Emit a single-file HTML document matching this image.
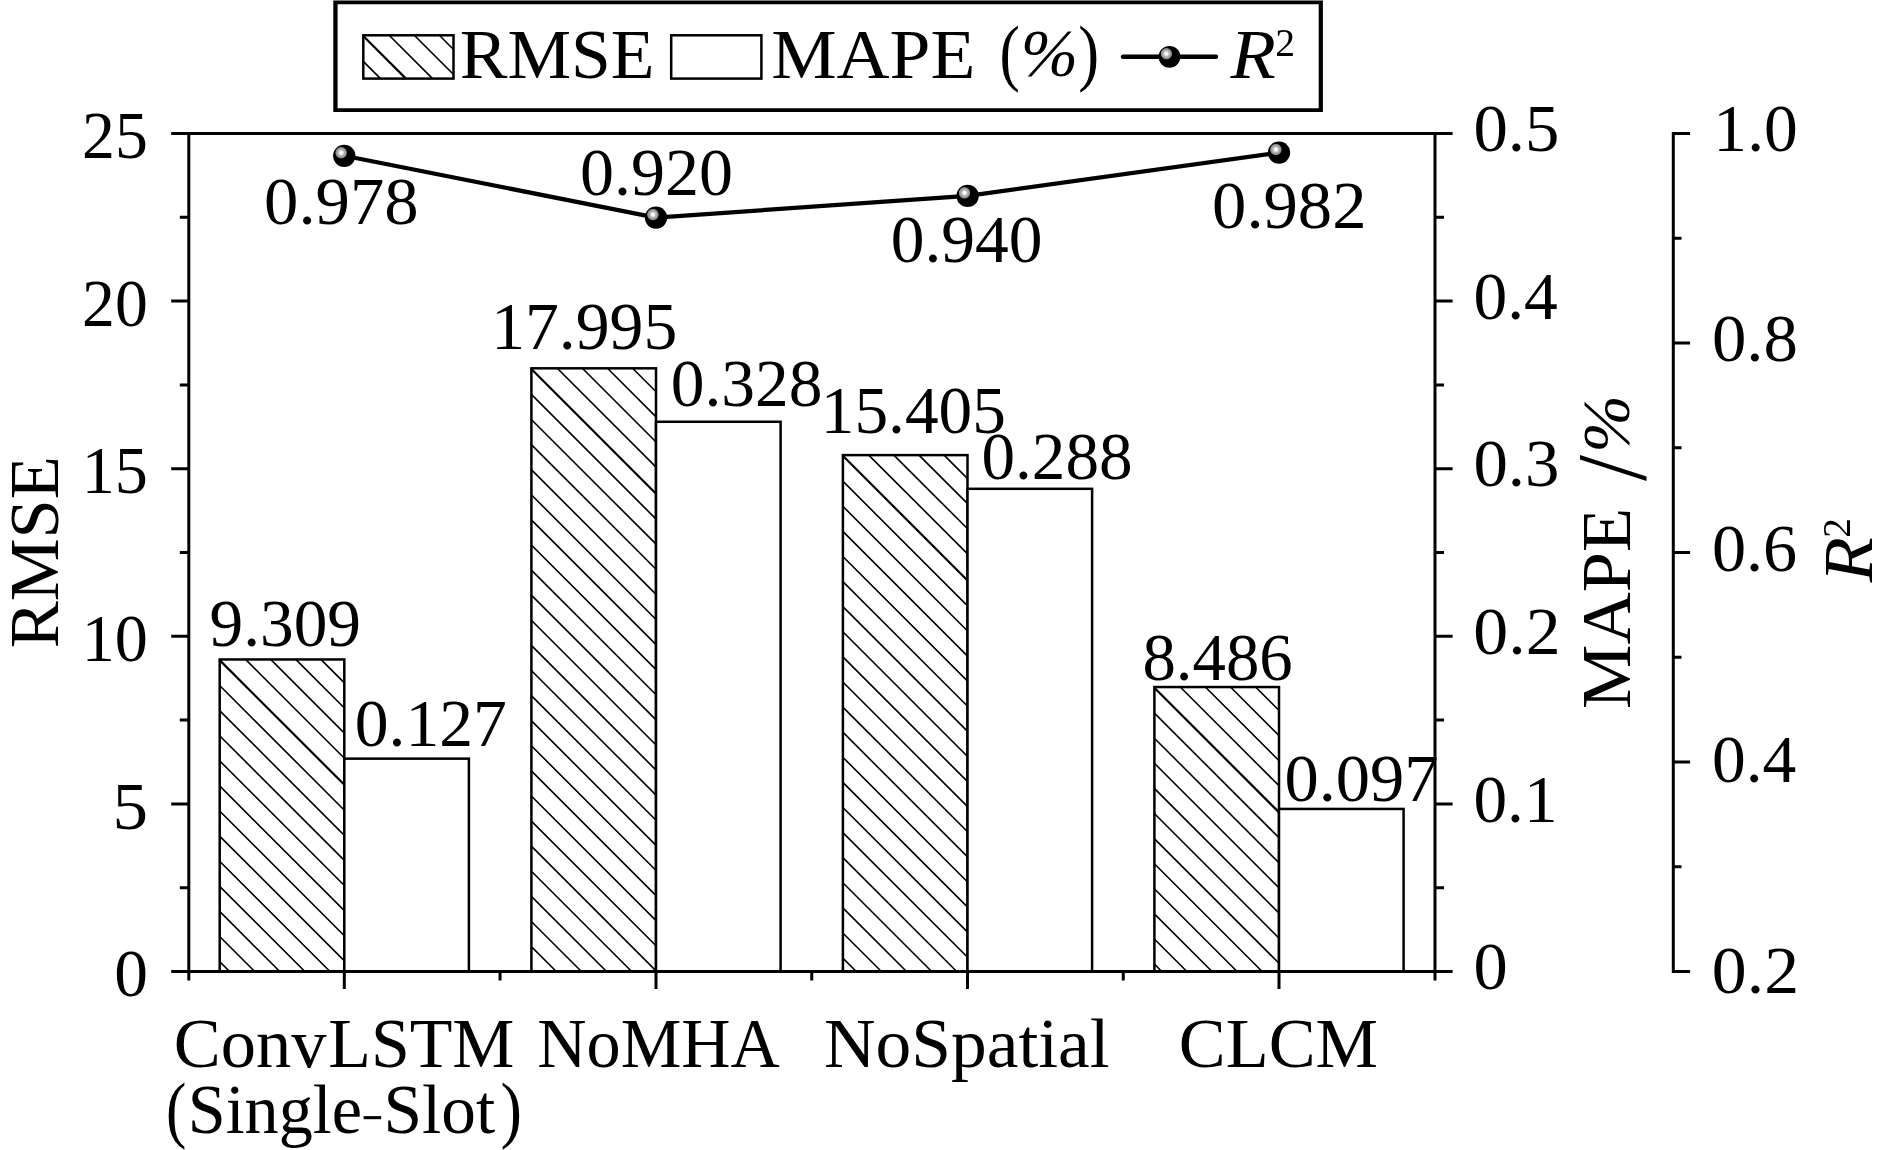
<!DOCTYPE html>
<html><head><meta charset="utf-8"><title>chart</title>
<style>html,body{margin:0;padding:0;background:#fff}svg{display:block}text{font-family:"Liberation Serif",serif;font-size:100px;fill:#000}</style></head>
<body>
<svg width="1890" height="1150" viewBox="0 0 1890 1150">
<rect x="0" y="0" width="1890" height="1150" fill="#fff"/>
<defs>
<radialGradient id="hl" cx="0.5" cy="0.5" r="0.5"><stop offset="0" stop-color="#fff"/><stop offset="0.2" stop-color="#fff"/><stop offset="0.42" stop-color="#c4c4c4"/><stop offset="0.66" stop-color="#a2a2a2"/><stop offset="0.86" stop-color="#868686"/><stop offset="0.95" stop-color="#444"/><stop offset="1" stop-color="#000"/></radialGradient>
</defs>
<rect x="219.70" y="659.46" width="124.60" height="312.04" fill="#fff"/><path d="M245.30,659.16L344.60,758.46M270.40,659.16L344.60,733.36M295.50,659.16L344.60,708.26M320.60,659.16L344.60,683.16M219.40,685.26L344.60,810.46M219.40,710.36L344.60,835.56M219.40,735.46L344.60,860.66M219.40,760.56L344.60,885.76M219.40,785.66L344.60,910.86M219.40,810.76L344.60,935.96M219.40,835.86L344.60,961.06M219.40,860.96L330.24,971.80M219.40,886.06L305.14,971.80M219.40,911.16L280.04,971.80M219.40,936.26L254.94,971.80M219.40,961.36L229.84,971.80" stroke="#000" stroke-width="1.6" fill="none"/><path d="M219.40,659.86L344.60,785.06" stroke="#000" stroke-width="2.2" fill="none"/><rect x="219.70" y="659.46" width="124.60" height="312.04" fill="none" stroke="#000" stroke-width="2.5"/>
<rect x="344.30" y="758.65" width="124.60" height="212.85" fill="#fff" stroke="#000" stroke-width="2.5"/>
<rect x="531.40" y="368.31" width="124.60" height="603.19" fill="#fff"/><path d="M557.00,368.01L656.30,467.31M582.10,368.01L656.30,442.21M607.20,368.01L656.30,417.11M632.30,368.01L656.30,392.01M531.10,394.11L656.30,519.31M531.10,419.21L656.30,544.41M531.10,444.31L656.30,569.51M531.10,469.41L656.30,594.61M531.10,494.51L656.30,619.71M531.10,519.61L656.30,644.81M531.10,544.71L656.30,669.91M531.10,569.81L656.30,695.01M531.10,594.91L656.30,720.11M531.10,620.01L656.30,745.21M531.10,645.11L656.30,770.31M531.10,670.21L656.30,795.41M531.10,695.31L656.30,820.51M531.10,720.41L656.30,845.61M531.10,745.51L656.30,870.71M531.10,770.61L656.30,895.81M531.10,795.71L656.30,920.91M531.10,820.81L656.30,946.01M531.10,845.91L656.30,971.11M531.10,871.01L631.89,971.80M531.10,896.11L606.79,971.80M531.10,921.21L581.69,971.80M531.10,946.31L556.59,971.80" stroke="#000" stroke-width="1.6" fill="none"/><path d="M531.10,368.71L656.30,493.91" stroke="#000" stroke-width="2.2" fill="none"/><rect x="531.40" y="368.31" width="124.60" height="603.19" fill="none" stroke="#000" stroke-width="2.5"/>
<rect x="656.00" y="421.77" width="124.60" height="549.73" fill="#fff" stroke="#000" stroke-width="2.5"/>
<rect x="842.90" y="455.12" width="124.60" height="516.38" fill="#fff"/><path d="M868.50,454.82L967.80,554.12M893.60,454.82L967.80,529.02M918.70,454.82L967.80,503.92M943.80,454.82L967.80,478.82M842.60,480.92L967.80,606.12M842.60,506.02L967.80,631.22M842.60,531.12L967.80,656.32M842.60,556.22L967.80,681.42M842.60,581.32L967.80,706.52M842.60,606.42L967.80,731.62M842.60,631.52L967.80,756.72M842.60,656.62L967.80,781.82M842.60,681.72L967.80,806.92M842.60,706.82L967.80,832.02M842.60,731.92L967.80,857.12M842.60,757.02L967.80,882.22M842.60,782.12L967.80,907.32M842.60,807.22L967.80,932.42M842.60,832.32L967.80,957.52M842.60,857.42L956.98,971.80M842.60,882.52L931.88,971.80M842.60,907.62L906.78,971.80M842.60,932.72L881.68,971.80M842.60,957.82L856.58,971.80" stroke="#000" stroke-width="1.6" fill="none"/><path d="M842.60,455.52L967.80,580.72" stroke="#000" stroke-width="2.2" fill="none"/><rect x="842.90" y="455.12" width="124.60" height="516.38" fill="none" stroke="#000" stroke-width="2.5"/>
<rect x="967.50" y="488.81" width="124.60" height="482.69" fill="#fff" stroke="#000" stroke-width="2.5"/>
<rect x="1154.40" y="687.05" width="124.60" height="284.45" fill="#fff"/><path d="M1180.00,686.75L1279.30,786.05M1205.10,686.75L1279.30,760.95M1230.20,686.75L1279.30,735.85M1255.30,686.75L1279.30,710.75M1154.10,712.85L1279.30,838.05M1154.10,737.95L1279.30,863.15M1154.10,763.05L1279.30,888.25M1154.10,788.15L1279.30,913.35M1154.10,813.25L1279.30,938.45M1154.10,838.35L1279.30,963.55M1154.10,863.45L1262.45,971.80M1154.10,888.55L1237.35,971.80M1154.10,913.65L1212.25,971.80M1154.10,938.75L1187.15,971.80M1154.10,963.85L1162.05,971.80" stroke="#000" stroke-width="1.6" fill="none"/><path d="M1154.10,687.45L1279.30,812.65" stroke="#000" stroke-width="2.2" fill="none"/><rect x="1154.40" y="687.05" width="124.60" height="284.45" fill="none" stroke="#000" stroke-width="2.5"/>
<rect x="1279.00" y="808.93" width="124.60" height="162.57" fill="#fff" stroke="#000" stroke-width="2.5"/>
<g stroke="#000" stroke-width="3" fill="none" stroke-linecap="butt">
<path d="M171.20,133.5 H1452.60"/><path d="M171.20,971.5 H1452.60"/><path d="M188.8,132.0 V980.50"/><path d="M1435.0,132.0 V980.50"/><path d="M1673.3,132.0 V973.0"/>
<path d="M179.80,217.30H188.8 M1435.0,217.30H1444.00 M171.20,301.10H188.8 M1435.0,301.10H1452.60 M179.80,384.90H188.8 M1435.0,384.90H1444.00 M171.20,468.70H188.8 M1435.0,468.70H1452.60 M179.80,552.50H188.8 M1435.0,552.50H1444.00 M171.20,636.30H188.8 M1435.0,636.30H1452.60 M179.80,720.10H188.8 M1435.0,720.10H1444.00 M171.20,803.90H188.8 M1435.0,803.90H1452.60 M179.80,887.70H188.8 M1435.0,887.70H1444.00 M1673.3,133.50H1690.10 M1673.3,238.25H1681.50 M1673.3,343.00H1690.10 M1673.3,447.75H1681.50 M1673.3,552.50H1690.10 M1673.3,657.25H1681.50 M1673.3,762.00H1690.10 M1673.3,866.75H1681.50 M1673.3,971.50H1690.10 M344.30,971.5V989.00 M656.00,971.5V989.00 M967.50,971.5V989.00 M1279.00,971.5V989.00 M500.05,971.5V980.50 M811.75,971.5V980.50 M1123.25,971.5V980.50 "/>
</g>
<polyline points="344.25,155.80 656.00,217.60 967.60,195.90 1279.00,152.60" fill="none" stroke="#000" stroke-width="4.2" stroke-linejoin="round"/>
<circle cx="344.25" cy="155.80" r="11.15" fill="#000"/><circle cx="341.15" cy="152.75" r="6.1" fill="url(#hl)"/><circle cx="656.00" cy="217.60" r="11.15" fill="#000"/><circle cx="652.90" cy="214.55" r="6.1" fill="url(#hl)"/><circle cx="967.60" cy="195.90" r="11.15" fill="#000"/><circle cx="964.50" cy="192.85" r="6.1" fill="url(#hl)"/><circle cx="1279.00" cy="152.60" r="11.15" fill="#000"/><circle cx="1275.90" cy="149.55" r="6.1" fill="url(#hl)"/>
<path d="M333.3,0.5H1322.9V112.0H333.3Z M337.6,4.3V108.2H1318.7V4.3Z" fill="#000" fill-rule="evenodd"/>
<path d="M388.90,35.00L432.80,78.90M414.00,35.00L453.80,74.80M439.10,35.00L453.80,49.70M363.00,61.10L380.80,78.90" stroke="#000" stroke-width="1.6" fill="none"/><path d="M363.00,35.70L406.20,78.90" stroke="#000" stroke-width="2.2" fill="none"/><rect x="363.3" y="35.3" width="90.2" height="43.3" fill="none" stroke="#000" stroke-width="2.5"/>
<rect x="671.2" y="35.3" width="90.2" height="43.3" fill="#fff" stroke="#000" stroke-width="2.5"/>
<path d="M1123,56.8 H1216" stroke="#000" stroke-width="4.4" stroke-linecap="round"/>
<circle cx="1169.5" cy="56.8" r="10.9" fill="#000"/><circle cx="1166.4" cy="53.75" r="6.0" fill="url(#hl)"/>
<rect x="363.6" y="1116.1" width="17.6" height="3.1" fill="#000"/>
<text transform="translate(459.64,78.30) scale(0.71586,0.70000)">RMSE</text>
<text transform="translate(771.18,78.30) scale(0.73494,0.70000)">MAPE</text>
<text transform="translate(999.61,76.93) scale(0.61132,0.73951)">(</text>
<text transform="translate(1020.86,76.02) scale(0.68887,0.68110)" font-style="italic">%</text>
<text transform="translate(1078.18,76.94) scale(0.62697,0.73994)">)</text>
<text transform="translate(1230.57,78.00) scale(0.74151,0.70000)" font-style="italic">R</text>
<text transform="translate(1275.36,55.60) scale(0.39661,0.39500)" style="mix-blend-mode:multiply">2</text>
<text transform="translate(82.11,158.00) scale(0.65764,0.68000)">25</text>
<text transform="translate(82.11,325.65) scale(0.65692,0.68000)">20</text>
<text transform="translate(81.68,493.30) scale(0.66211,0.68000)">15</text>
<text transform="translate(81.69,660.95) scale(0.66133,0.68000)">10</text>
<text transform="translate(112.56,828.60) scale(0.71037,0.68000)">5</text>
<text transform="translate(114.13,996.25) scale(0.67496,0.68000)">0</text>
<text transform="translate(1473.38,150.90) scale(0.68811,0.68000)">0.5</text>
<text transform="translate(1473.43,318.55) scale(0.67461,0.68000)">0.4</text>
<text transform="translate(1473.38,486.20) scale(0.68813,0.68000)">0.3</text>
<text transform="translate(1473.35,653.85) scale(0.69761,0.68000)">0.2</text>
<text transform="translate(1473.43,821.50) scale(0.67285,0.68000)">0.1</text>
<text transform="translate(1473.39,989.15) scale(0.68440,0.68000)">0</text>
<text transform="translate(1713.37,150.70) scale(0.67528,0.68000)">1.0</text>
<text transform="translate(1711.88,361.30) scale(0.68753,0.68000)">0.8</text>
<text transform="translate(1711.90,571.30) scale(0.68274,0.68000)">0.6</text>
<text transform="translate(1711.93,782.00) scale(0.67461,0.68000)">0.4</text>
<text transform="translate(1711.85,993.20) scale(0.69761,0.68000)">0.2</text>
<text transform="translate(57.60,648.33) rotate(-90) scale(0.70565,0.70000)">RMSE</text>
<text transform="translate(1629.80,708.88) rotate(-90) scale(0.72346,0.70000)">MAPE</text>
<text transform="translate(1644.60,481.02) rotate(-90) scale(0.93970,0.99385)">/</text>
<text transform="translate(1628.93,452.75) rotate(-90) scale(0.69165,0.67668)" font-style="italic">%</text>
<text transform="translate(1872.00,582.33) rotate(-90) scale(0.73817,0.70000)" font-style="italic">R</text>
<text transform="translate(1850.00,537.72) rotate(-90) scale(0.39163,0.39500)" style="mix-blend-mode:multiply">2</text>
<text transform="translate(173.71,1067.30) scale(0.70462,0.70000)">Conv</text>
<text transform="translate(328.29,1067.30) scale(0.69799,0.70000)">LSTM</text>
<text transform="translate(166.11,1133.96) scale(0.61132,0.74282)">(</text>
<text transform="translate(187.73,1133.30) scale(0.68214,0.70000)">Single</text>
<text transform="translate(383.46,1133.30) scale(0.69330,0.70000)">Slot</text>
<text transform="translate(500.52,1133.97) scale(0.64644,0.74326)">)</text>
<text transform="translate(537.34,1067.30) scale(0.68191,0.70000)">NoMHA</text>
<text transform="translate(823.94,1067.30) scale(0.71456,0.70000)">NoSpatial</text>
<text transform="translate(1178.81,1067.30) scale(0.70305,0.70000)">CLCM</text>
<text transform="translate(209.53,646.30) scale(0.67351,0.68000)">9.309</text>
<text transform="translate(354.72,746.30) scale(0.67657,0.68000)">0.127</text>
<text transform="translate(491.15,348.50) scale(0.67710,0.68000)">17.995</text>
<text transform="translate(670.73,406.30) scale(0.67488,0.68000)">0.328</text>
<text transform="translate(820.78,433.00) scale(0.67328,0.68000)">15.405</text>
<text transform="translate(981.44,479.30) scale(0.67166,0.68000)">0.288</text>
<text transform="translate(1142.45,679.70) scale(0.66773,0.68000)">8.486</text>
<text transform="translate(1284.39,801.20) scale(0.68481,0.68000)">0.097</text>
<text transform="translate(264.08,224.00) scale(0.68682,0.68000)">0.978</text>
<text transform="translate(580.01,194.80) scale(0.67994,0.68000)">0.920</text>
<text transform="translate(890.73,262.30) scale(0.67488,0.68000)">0.940</text>
<text transform="translate(1212.09,228.30) scale(0.68621,0.68000)">0.982</text>
</svg>
</body></html>
